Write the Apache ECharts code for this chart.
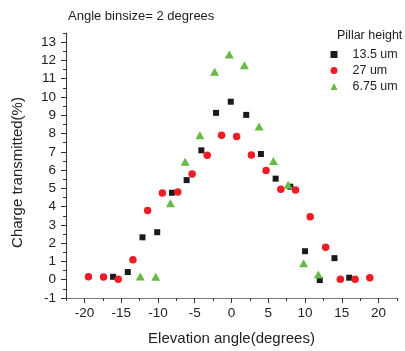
<!DOCTYPE html>
<html>
<head>
<meta charset="utf-8">
<script src="https://cdn.jsdelivr.net/npm/echarts@6/dist/echarts.min.js"></script>
<style>
  html, body { margin: 0; padding: 0; background: #fff; }
  #chart { width: 405px; height: 351px; }
</style>
</head>
<body>
<div id="chart"></div>
<script>
// Elevation angle (deg) and charge transmitted (%) per pillar height
const angles135 = [-16.1, -14.1, -12.1, -10.1, -8.1, -6.1, -4.1, -2.1, -0.1, 2.0, 4.0, 6.0, 8.0, 10.0, 12.0, 14.0, 16.0]
const values135 = [0.16, 0.42, 2.32, 2.6, 4.76, 5.45, 7.08, 9.13, 9.74, 9.02, 6.88, 5.53, 5.09, 1.56, -0.02, 1.18, 0.11]

const angles27 = [-19.45, -17.4, -15.4, -13.4, -11.4, -9.4, -7.3, -5.35, -3.3, -1.35, 0.7, 2.7, 4.7, 6.7, 8.7, 10.7, 12.8, 14.8, 16.8, 18.8]
const values27 = [0.16, 0.15, 0.02, 1.09, 3.79, 4.75, 4.8, 5.78, 6.81, 7.9, 7.83, 6.83, 5.98, 4.95, 4.91, 3.44, 1.78, 0.02, 0.02, 0.11]

const angles675 = [-12.4, -10.3, -8.3, -6.3, -4.3, -2.3, -0.3, 1.75, 3.75, 5.7, 7.7, 9.8, 11.8]
const values675 = [0.18, 0.16, 4.18, 6.45, 7.9, 11.38, 12.32, 11.74, 8.39, 6.5, 5.2, 0.9, 0.29]

const xMajorTicks = [-20, -15, -10, -5, 0, 5, 10, 15, 20]
const xMinorTicks = [-22.5, -17.5, -12.5, -7.5, -2.5, 2.5, 7.5, 12.5, 17.5, 22.5]
const yMajorTicks = [-1, 0, 1, 2, 3, 4, 5, 6, 7, 8, 9, 10, 11, 12, 13]
const yMinorTicks = [-0.5, 0.5, 1.5, 2.5, 3.5, 4.5, 5.5, 6.5, 7.5, 8.5, 9.5, 10.5, 11.5, 12.5, 13.5]

const FONT = '"Liberation Sans", Arial, sans-serif'
const INK = '#222'

const zip = (xs, ys) => xs.map((x, i) => [x, ys[i]])

const chart = echarts.init(document.getElementById('chart'), null, { renderer: 'canvas' })

const xBase = { type: 'value', min: -22.5, max: 22.5, position: 'bottom', splitLine: { show: false } }
const yBase = { type: 'value', min: -1, max: 13.5, position: 'left', splitLine: { show: false } }

chart.setOption({
  animation: false,
  backgroundColor: '#fff',
  textStyle: { fontFamily: FONT },
  title: {
    text: 'Angle binsize= 2 degrees',
    left: 63,
    top: 5,
    textStyle: { fontSize: 13, fontWeight: 'normal', color: INK, fontFamily: FONT },
  },
  graphic: [
    {
      type: 'text',
      left: 337,
      top: 29,
      style: { text: 'Pillar height', fontSize: 12.5, fill: INK, fontFamily: FONT },
    },
  ],
  legend: {
    orient: 'vertical',
    left: 325.5,
    top: 42.5,
    itemWidth: 7,
    itemHeight: 7,
    itemGap: 2,
    textStyle: { fontSize: 12.5, color: INK, fontFamily: FONT, lineHeight: 14, padding: [0, 0, 0, 10] },
    data: [
      { name: '13.5 um', icon: 'rect' },
      { name: '27 um', icon: 'circle' },
      { name: '6.75 um', icon: 'triangle' },
    ],
  },
  grid: { left: 66, right: 8, top: 33, bottom: 52, containLabel: false },
  xAxis: [
    {
      ...xBase,
      name: 'Elevation angle(degrees)',
      nameLocation: 'middle',
      nameGap: 33,
      nameTextStyle: { fontSize: 15, color: INK, fontFamily: FONT },
      axisLine: { show: true, onZero: false, lineStyle: { color: '#777', width: 1 } },
      axisTick: { show: true, inside: false, length: 5, customValues: xMajorTicks, lineStyle: { color: '#333' } },
      axisLabel: { show: true, customValues: xMajorTicks, margin: 8, fontSize: 13.5, color: INK, fontFamily: FONT },
    },
    {
      ...xBase,
      axisLine: { show: false, onZero: false },
      axisTick: { show: true, inside: false, length: 3, customValues: xMinorTicks, lineStyle: { color: '#333' } },
      axisLabel: { show: false },
    },
  ],
  yAxis: [
    {
      ...yBase,
      name: 'Charge transmitted(%)',
      nameLocation: 'middle',
      nameRotate: 90,
      nameGap: 41,
      nameTextStyle: { fontSize: 15, color: INK, fontFamily: FONT, padding: [0, 14, 0, 0] },
      axisLine: { show: true, onZero: false, lineStyle: { color: '#333', width: 1 } },
      axisTick: { show: true, inside: false, length: 5, customValues: yMajorTicks, lineStyle: { color: '#333' } },
      axisLabel: { show: true, customValues: yMajorTicks, margin: 10, fontSize: 13.5, color: INK, fontFamily: FONT },
    },
    {
      ...yBase,
      axisLine: { show: false, onZero: false },
      axisTick: { show: true, inside: false, length: 3, customValues: yMinorTicks, lineStyle: { color: '#333' } },
      axisLabel: { show: false },
    },
  ],
  series: [
    {
      name: '13.5 um',
      type: 'scatter',
      symbol: 'rect',
      symbolSize: 6,
      itemStyle: { color: '#1a1a1a', opacity: 1 },
      data: zip(angles135, values135),
    },
    {
      name: '27 um',
      type: 'scatter',
      symbol: 'circle',
      symbolSize: 7.5,
      itemStyle: { color: '#ee1d25', opacity: 1 },
      data: zip(angles27, values27),
    },
    {
      name: '6.75 um',
      type: 'scatter',
      symbol: 'triangle',
      symbolSize: [9, 8],
      itemStyle: { color: '#67bb45', opacity: 1 },
      data: zip(angles675, values675),
    },
  ],
})
</script>
</body>
</html>
